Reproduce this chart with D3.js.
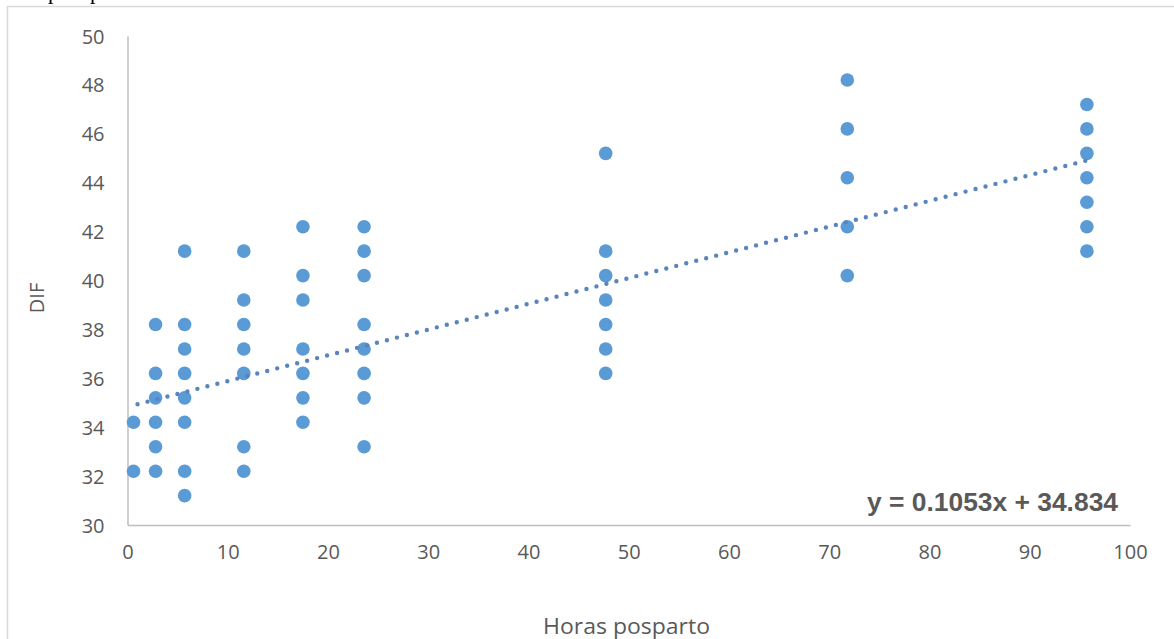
<!DOCTYPE html>
<html>
<head>
<meta charset="utf-8">
<script src="https://cdn.jsdelivr.net/npm/d3@7"></script>
<style>
  body { margin: 0; background: #fff; }
  svg { display: block; }
</style>
</head>
<body>
<script>
// hours (as drawn) and DIF values per column
var hours = [0.6, 2.8, 5.7, 11.6, 17.5, 23.6, 47.7, 71.8, 95.7];
var difAt1 = [34.2, 32.2];
var difAt3 = [38.2, 36.2, 35.2, 34.2, 33.2, 32.2];
var difAt6 = [41.2, 38.2, 37.2, 36.2, 35.2, 34.2, 32.2, 31.2];
var difAt12 = [41.2, 39.2, 38.2, 37.2, 36.2, 33.2, 32.2];
var difAt18 = [42.2, 40.2, 39.2, 37.2, 36.2, 35.2, 34.2];
var difAt24 = [42.2, 41.2, 40.2, 38.2, 37.2, 36.2, 35.2, 33.2];
var difAt48 = [45.2, 41.2, 40.2, 39.2, 38.2, 37.2, 36.2];
var difAt72 = [48.2, 46.2, 44.2, 42.2, 40.2];
var difAt96 = [47.2, 46.2, 45.2, 44.2, 43.2, 42.2, 41.2];
var xTicks = [0, 10, 20, 30, 40, 50, 60, 70, 80, 90, 100];
var yTicks = [30, 32, 34, 36, 38, 40, 42, 44, 46, 48, 50];
var slope = 0.1053, intercept = 34.834;

var columns = [difAt1, difAt3, difAt6, difAt12, difAt18, difAt24, difAt48, difAt72, difAt96];
var points = [];
columns.forEach(function(col, i) {
    col.forEach(function(v) { points.push({x: hours[i], y: v}); });
});

var width = 1174, height = 639;

var svg = d3.select("body")
    .append("svg")
    .attr("width", width)
    .attr("height", height);

var x = d3.scaleLinear().domain([0, 100]).range([127.5, 1130]);
var y = d3.scaleLinear().domain([30, 50]).range([525, 36]);

// bits of the page text above the chart (cropped in the original too)
svg.append("g")
    .selectAll("text")
    .data([48, 90])
    .enter()
        .append("text")
        .attr("x", function(d) { return d; })
        .attr("y", -1)
        .attr("font-family", "Liberation Serif, serif")
        .attr("font-size", 22)
        .attr("fill", "#000")
        .text("p");

// chart frame
svg.append("rect")
    .attr("x", 7.5)
    .attr("y", 6.5)
    .attr("width", 1180)
    .attr("height", 650)
    .attr("fill", "none")
    .attr("stroke", "#d9d9d9")
    .attr("stroke-width", 1.5);

var tickFont = "'Open Sans', Lato, sans-serif";

// axes
var xAxis = svg.append("g")
    .attr("transform", "translate(0," + y(30) + ")")
    .call(d3.axisBottom(x).tickValues(xTicks).tickSize(0).tickPadding(20));
var yAxis = svg.append("g")
    .attr("transform", "translate(" + x(0) + ",0)")
    .call(d3.axisLeft(y).tickValues(yTicks).tickSize(0).tickPadding(23));

[xAxis, yAxis].forEach(function(a) {
    a.select(".domain").attr("stroke", "#bfbfbf").attr("stroke-width", 1.5);
    a.selectAll("text")
        .attr("font-family", tickFont)
        .attr("font-size", 20)
        .attr("fill", "#595959");
});
yAxis.selectAll("text").attr("dy", "0.35em");
xAxis.selectAll("text").attr("dy", "0.71em");

// axis titles
svg.append("text")
    .attr("x", 543)
    .attr("y", 634)
    .attr("textLength", 167)
    .attr("lengthAdjust", "spacingAndGlyphs")
    .attr("font-family", tickFont)
    .attr("font-size", 22)
    .attr("fill", "#595959")
    .text("Horas posparto");

svg.append("text")
    .attr("transform", "translate(44,298) rotate(-90)")
    .attr("text-anchor", "middle")
    .attr("font-family", tickFont)
    .attr("font-size", 20)
    .attr("fill", "#595959")
    .text("DIF");

// points
svg.append("g")
    .selectAll("circle")
    .data(points)
    .enter()
        .append("circle")
        .attr("cx", function(d) { return x(d.x); })
        .attr("cy", function(d) { return y(d.y); })
        .attr("r", 6.8)
        .attr("fill", "#5b9bd5");

// linear trendline
var xr = d3.extent(points, function(d) { return d.x; });
var trend = [xr[0] + 0.4, xr[1]].map(function(v) { return {x: v, y: slope * v + intercept}; });
svg.append("path")
    .datum(trend)
    .attr("d", d3.line()
        .x(function(d) { return x(d.x); })
        .y(function(d) { return y(d.y); }))
    .attr("fill", "none")
    .attr("stroke", "#5a84bd")
    .attr("stroke-width", 4.4)
    .attr("stroke-linecap", "round")
    .attr("stroke-dasharray", "0 10.3");

// equation label
svg.append("text")
    .attr("x", 867)
    .attr("y", 511)
    .attr("textLength", 251)
    .attr("lengthAdjust", "spacingAndGlyphs")
    .attr("font-family", "Liberation Sans, Arial, sans-serif")
    .attr("font-weight", "bold")
    .attr("font-size", 25)
    .attr("fill", "#595959")
    .text("y = " + slope + "x + " + intercept);
</script>
</body>
</html>
